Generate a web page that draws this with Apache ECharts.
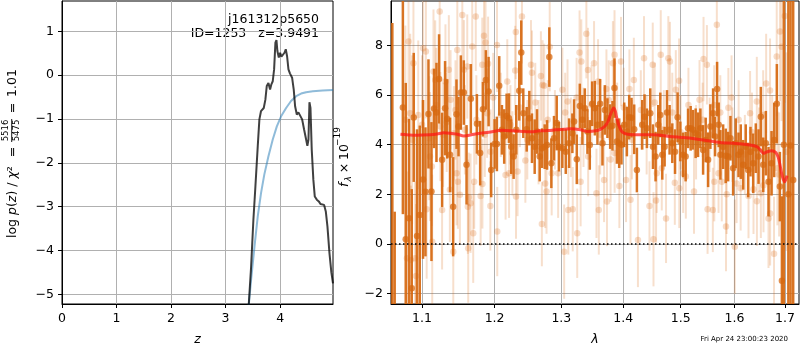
<!DOCTYPE html>
<html>
<head>
<meta charset="utf-8">
<script src="https://cdn.jsdelivr.net/npm/echarts@6/dist/echarts.min.js"></script>
<style>
  html, body { margin: 0; padding: 0; background: #fff; }
  #chart { width: 800px; height: 350px; }
</style>
</head>
<body>
<div id="chart"></div>
<script>
// ---------- redshift probability panel ----------
const zPz = [3.40, 3.425, 3.468, 3.51, 3.547, 3.59, 3.62, 3.65, 3.70, 3.73, 3.755, 3.786, 3.816, 3.84, 3.865, 3.89,
  3.914, 3.933, 3.95, 3.976, 4.0, 4.024, 4.055, 4.08, 4.104, 4.128, 4.153, 4.18, 4.22, 4.25, 4.275, 4.306, 4.336,
  4.367, 4.404, 4.44, 4.477, 4.50, 4.52, 4.538, 4.557, 4.58, 4.61, 4.636, 4.673, 4.71, 4.74, 4.77, 4.807, 4.838,
  4.868, 4.905, 4.94, 4.97];
const logPz = [-5.6, -5.24, -4.37, -3.30, -2.54, -1.62, -1.01, -0.82, -0.75, -0.56, -0.25, -0.18, -0.33, -0.21, -0.14, 0.13,
  0.74, 0.80, 0.55, 0.40, 0.51, 0.42, 0.45, 0.51, 0.59, 0.43, 0.13, 0.04, -0.06, -0.33, -0.71, -0.90, -0.85,
  -0.88, -1.01, -1.24, -1.47, -1.61, -1.47, -0.62, -0.75, -1.70, -2.39, -2.77, -2.84, -2.88, -2.94, -2.90, -2.96, -3.11,
  -3.45, -4.06, -4.5, -4.75];
const zPrior = [3.40, 3.425, 3.468, 3.53, 3.59, 3.65, 3.71, 3.786, 3.865, 3.94, 4.018, 4.11, 4.20, 4.294, 4.385, 4.477, 4.60, 4.78, 4.97];
const logPrior = [-5.6, -5.24, -4.67, -3.91, -3.22, -2.69, -2.27, -1.85, -1.47, -1.17, -0.94, -0.75, -0.59, -0.48, -0.42, -0.39, -0.37, -0.35, -0.34];
const zTicks = [0, 1, 2, 3, 4];
const pzTicks = [-5, -4, -3, -2, -1, 0, 1];
const zRange = [0, 4.97];
const pzRange = [-5.22, 1.69];

// ---------- spectrum panel (flux in units of 1e-19) ----------
const darkWave = [1.0615, 1.0645, 1.0750, 1.0787, 1.0829, 1.0865, 1.0891, 1.0934, 1.0970, 1.1013, 1.1045, 1.1085, 1.1125,
  1.1160, 1.1192, 1.1227, 1.1268, 1.1308, 1.1336, 1.1376, 1.1418, 1.1464, 1.1492, 1.1524, 1.1565, 1.1603, 1.1663,
  1.1748, 1.1794, 1.1833, 1.1875, 1.1914, 1.1951, 1.2000, 1.2033, 1.2067, 1.2106, 1.2139, 1.2174, 1.2208, 1.2242,
  1.2277, 1.2316, 1.2360, 1.2390, 1.2420, 1.2471, 1.2510, 1.2550, 1.2591, 1.2626, 1.2667, 1.2702, 1.2743, 1.2779,
  1.2814, 1.2845, 1.2886, 1.2928, 1.2964, 1.3016, 1.3069, 1.3121, 1.3173, 1.3200, 1.3243, 1.3291, 1.3332, 1.3371,
  1.3413, 1.3451, 1.3489, 1.3533, 1.3575, 1.3619, 1.3657, 1.3696, 1.3739, 1.3784, 1.3822, 1.3855, 1.3895, 1.3934,
  1.3972, 1.4018, 1.4063, 1.4102, 1.4141, 1.4187, 1.4233, 1.4324, 1.4364, 1.4405, 1.4463, 1.4510, 1.4555, 1.4602,
  1.4638, 1.4673, 1.4714, 1.4756, 1.4802, 1.4850, 1.4899, 1.4945, 1.4994, 1.5043, 1.5090, 1.5133, 1.5181, 1.5224,
  1.5272, 1.5316, 1.5359, 1.5409, 1.5457, 1.5502, 1.5544, 1.5595, 1.5632, 1.5670, 1.5700, 1.5732, 1.5784, 1.5833,
  1.5879, 1.5923, 1.5974, 1.6024, 1.6077, 1.6121, 1.6168, 1.6218, 1.6265, 1.6310, 1.6363, 1.6414, 1.6468, 1.6513,
  1.6561, 1.6613, 1.6667, 1.6727, 1.6781, 1.6834, 1.6895, 1.6936, 1.6975, 1.7068, 1.7113, 1.7167];
const darkFlux = [-4.0, -3.0, 5.5, 0.19, 1.04, -1.79, 5.1, 0.32, 1.17, 2.6, 2.1, 5.24, 2.11,
  5.46, 5.3, 6.65, 3.39, 5.47, 5.04, 3.59, 1.5, 5.23, 4.73, 6.1, 6.1, 3.19, 5.85,
  4.84, 3.66, 5.43, 6.61, 6.14, 2.98, 4.03, 4.03, 6.37, 4.6, 4.33, 5.16, 5.07, 3.92,
  3.52, 4.6, 6.17, 7.71, 5.27, 4.62, 5.07, 4.26, 3.92, 4.53, 3.52, 3.86, 3.92, 3.99,
  7.53, 3.25, 4.26, 4.87, 3.92, 3.86, 3.72, 4.06, 4.46, 4.93, 3.41, 5.56, 5.0, 5.47,
  4.53, 3.99, 5.65, 5.47, 4.8, 5.65, 4.06, 5.4, 5.07, 4.73, 4.76, 6.28, 4.13, 4.06,
  4.0, 4.8, 4.53, 5.11, 5.09, 4.62, 2.98, 4.8, 5.13, 4.66, 5.27, 3.92, 3.52, 4.8,
  5.2, 3.59, 3.92, 5.3, 4.6, 4.06, 3.72, 5.11, 4.13, 3.59, 3.52, 4.66, 4.66, 4.6,
  4.46, 4.4, 4.66, 3.79, 4.19, 3.39, 4.73, 5.27, 4.33, 6.24, 4.8, 3.59, 3.92, 3.55,
  3.52, 4.26, 3.05, 4.06, 3.59, 3.72, 3.19, 3.92, 2.98, 3.72, 3.25, 3.86, 3.52, 5.13,
  3.19, 4.06, 2.51, 3.25, 4.19, 5.65, 2.31, -1.48, 4.0, 2.0, 3.97, 2.58];
const darkErr = [12.9, 4.3, 4.3, 6.3, 4.0, 4.0, 2.6, 4.3, 3.6, 3.2, 2.6, 2.2, 2.8,
  1.6, 2.0, 1.8, 1.9, 1.9, 1.6, 1.5, 2.0, 1.4, 1.2, 1.5, 1.3, 1.6, 1.4,
  1.2, 1.3, 1.1, 1.2, 1.4, 1.1, 1.0, 1.1, 1.2, 1.0, 1.1, 0.9, 1.0, 1.1,
  0.9, 1.0, 1.2, 1.3, 1.0, 0.9, 1.1, 1.0, 1.1, 0.9, 1.0, 0.8, 0.9, 1.0,
  1.2, 1.0, 0.9, 1.1, 1.0, 0.8, 0.9, 1.0, 0.8, 0.9, 1.0, 0.9, 1.0, 0.8,
  0.9, 1.0, 0.9, 1.1, 0.8, 1.0, 0.9, 1.0, 0.8, 0.9, 1.0, 1.2, 0.9, 1.0,
  0.8, 0.9, 1.0, 0.9, 0.8, 1.0, 0.9, 1.0, 0.9, 0.8, 1.0, 0.9, 1.0, 0.8,
  0.9, 1.0, 0.8, 0.9, 1.0, 0.8, 0.9, 1.0, 0.8, 0.9, 1.0, 0.8, 0.9, 0.8,
  1.0, 0.9, 0.8, 1.0, 0.9, 1.1, 0.9, 1.0, 0.8, 1.1, 0.9, 1.0, 0.9, 1.1,
  1.0, 0.9, 1.1, 1.0, 0.9, 1.1, 1.0, 0.9, 1.1, 1.0, 1.2, 1.0, 1.1, 1.2,
  1.1, 1.3, 1.4, 1.3, 1.5, 1.6, 1.4, 3.4, 20, 20, 20, 20];

const lightWave = [1.0782, 1.0803, 1.0823, 1.0845, 1.0854, 1.0870, 1.0887, 1.0908, 1.0921, 1.0950, 1.1000, 1.1014,
  1.1051, 1.1061, 1.1097, 1.1106, 1.1130, 1.1135, 1.1152, 1.1175, 1.1190, 1.1235, 1.1244, 1.1268, 1.1282, 1.1313,
  1.1330, 1.1359, 1.1373, 1.1383, 1.1420, 1.1428, 1.1450, 1.1465, 1.1475, 1.1483, 1.1511, 1.1544, 1.1566, 1.1580,
  1.1613, 1.1621, 1.1626, 1.1635, 1.1659, 1.1682, 1.1696, 1.1710, 1.1732, 1.1740, 1.1801, 1.1824, 1.1826, 1.1848,
  1.1860, 1.1870, 1.1893, 1.1907, 1.1939, 1.1942, 1.1980, 1.2035, 1.2038, 1.2090, 1.2159, 1.2184, 1.2210, 1.2230,
  1.2259, 1.2300, 1.2309, 1.2312, 1.2335, 1.2370, 1.2400, 1.2451, 1.2480, 1.2535, 1.2550, 1.2600, 1.2650, 1.2685,
  1.2700, 1.2711, 1.2736, 1.2751, 1.2771, 1.2790, 1.2820, 1.2850, 1.2900, 1.2950, 1.3016, 1.3044, 1.3060, 1.3097,
  1.3109, 1.3150, 1.3179, 1.3240, 1.3250, 1.3287, 1.3304, 1.3315, 1.3350, 1.3396, 1.3422, 1.3425, 1.3480, 1.3520,
  1.3559, 1.3585, 1.3597, 1.3620, 1.3683, 1.3722, 1.3731, 1.3760, 1.3791, 1.3829, 1.3856, 1.3858, 1.3900, 1.3937,
  1.3964, 1.4010, 1.4049, 1.4106, 1.4124, 1.4150, 1.4181, 1.4251, 1.4300, 1.4355, 1.4400, 1.4449, 1.4506, 1.4519,
  1.4540, 1.4564, 1.4576, 1.4646, 1.4664, 1.4700, 1.4739, 1.4780, 1.4808, 1.4850, 1.4895, 1.4913, 1.4972, 1.4975,
  1.5000, 1.5045, 1.5093, 1.5140, 1.5242, 1.5280, 1.5343, 1.5400, 1.5417, 1.5479, 1.5492, 1.5530, 1.5590, 1.5615,
  1.5617, 1.5665, 1.5697, 1.5730, 1.5758, 1.5838, 1.5851, 1.5883, 1.5944, 1.5960, 1.6006, 1.6040, 1.6080, 1.6119,
  1.6200, 1.6271, 1.6302, 1.6340, 1.6369, 1.6434, 1.6436, 1.6480, 1.6514, 1.6560, 1.6567, 1.6619, 1.6666, 1.6697,
  1.6699, 1.6740, 1.6777, 1.6831, 1.6845, 1.6880, 1.6896, 1.6930, 1.6995, 1.7028];
const lightFlux = [5.0, -0.58, 8.16, 5.27, -0.65, 4.2, 7.28, -0.58, -1.29, 5.2, 4.8, 7.89,
  7.76, 1.4, 4.26, 3.52, 3.12, 0.09, 6.95, 6.61, 5.6, 9.37, 4.73, 1.37, 4.4, 6.55,
  4.9, 7.02, 2.18, 5.81, -0.31, 4.46, 5.4, 2.85, 7.82, 2.51, 1.98, 9.23, 7.02, 4.6,
  7.15, 1.5, -0.17, 1.88, 1.64, 7.96, 0.43, 2.51, 9.17, 5.0, 1.93, 7.22, 2.42, 8.39,
  4.4, 8.12, 5.27, 7.26, 1.53, 3.72, 5.9, 8.02, 0.5, 5.2, 2.78, 6.55, 2.85, 4.8,
  3.65, 6.99, 8.54, 1.91, 2.92, 5.5, 9.17, 3.36, 4.2, 7.22, 6.9, 5.7, 4.1, 6.77,
  0.8, 6.41, 6.37, 2.44, 2.11, 5.0, 7.95, 2.85, 4.6, 2.85, 6.21, -0.31, 5.3, 5.74,
  1.37, 4.3, 1.40, 5.9, 0.43, 7.71, 2.51, 7.35, 4.7, 8.47, 7.01, 3.52, 5.6, 7.28,
  2.04, 6.55, 1.37, 4.4, 2.58, 6.24, 1.71, 5.8, 3.4, 7.28, 7.62, 3.66, 4.9, 2.34,
  7.35, 5.5, 2.58, 6.24, 1.78, 4.2, 6.61, 0.16, 5.4, 7.48, 4.4, 1.53, 7.22, 0.19,
  5.7, 1.75, 2.85, 7.62, 3.05, 4.6, 1.03, 7.48, 7.35, 5.3, 2.47, 6.21, 6.58, 2.24,
  4.5, 2.85, 2.72, 5.6, 2.11, 4.1, 5.81, 5.0, 7.45, 7.22, 1.4, 4.4, 1.37, 5.6,
  2.51, 8.83, 2.85, 5.3, 2.51, 0.7, 2.0, 5.49, 5.9, 4.0, -0.11, 2.44, 5.0, 2.24,
  3.6, 1.93, 5.27, 4.5, 2.2, 5.74, 1.72, 3.8, 2.04, 5.2, 2.37, 6.47, 1.03, 6.18,
  1.23, 4.0, -0.4, 7.55, 3.05, 2.8, 8.56, 7.95, 9.19, 3.72];
const lightErr = [3.8, 3.5, 3.6, 3.2, 3.0, 3.4, 3.3, 3.1, 2.9, 3.0, 2.8, 2.9,
  2.7, 2.8, 2.5, 2.6, 2.4, 2.7, 2.5, 2.4, 2.3, 2.6, 2.2, 2.4, 2.1, 2.3,
  2.0, 2.2, 2.1, 2.0, 2.3, 1.9, 2.0, 2.1, 2.2, 1.9, 2.0, 2.3, 2.0, 1.8,
  2.1, 1.9, 2.2, 1.8, 2.0, 2.1, 2.0, 1.9, 2.2, 1.8, 2.0, 1.9, 1.8, 2.0,
  1.7, 1.9, 1.8, 1.9, 1.8, 1.7, 1.8, 1.9, 1.8, 1.7, 1.8, 1.7, 1.8, 1.6,
  1.7, 1.8, 1.9, 1.7, 1.8, 1.6, 1.9, 1.7, 1.6, 1.8, 1.7, 1.6, 1.7, 1.8,
  1.7, 1.8, 1.7, 1.8, 1.7, 1.6, 1.8, 1.7, 1.6, 1.8, 1.7, 1.9, 1.6, 1.7,
  1.8, 1.6, 1.7, 1.6, 1.8, 1.7, 1.8, 1.7, 1.6, 1.8, 1.7, 1.6, 1.6, 1.7,
  1.8, 1.7, 1.8, 1.6, 1.7, 1.6, 1.8, 1.6, 1.7, 1.7, 1.8, 1.6, 1.6, 1.7,
  1.8, 1.6, 1.7, 1.6, 1.8, 1.6, 1.7, 1.9, 1.6, 1.7, 1.6, 1.8, 1.7, 1.9,
  1.6, 1.7, 1.6, 1.8, 1.7, 1.6, 1.8, 1.7, 1.6, 1.6, 1.7, 1.6, 1.7, 1.6,
  1.5, 1.6, 1.7, 1.5, 1.7, 1.5, 1.6, 1.5, 1.7, 1.6, 1.8, 1.5, 1.7, 1.6,
  1.6, 1.8, 1.6, 1.5, 1.6, 1.8, 1.6, 1.6, 1.7, 1.5, 1.9, 1.6, 1.6, 1.7,
  1.6, 1.7, 1.7, 1.6, 1.8, 1.8, 1.8, 1.7, 1.8, 1.8, 1.9, 2.0, 2.0, 2.1,
  2.1, 2.0, 2.3, 2.4, 2.3, 2.5, 2.8, 3.0, 3.5, 4.0];

const modelWave = [1.0719, 1.0800, 1.0930, 1.1106, 1.1200, 1.1290, 1.1400, 1.1475, 1.1566, 1.1705, 1.1800, 1.1917,
  1.2111, 1.2250, 1.2411, 1.2550, 1.2662, 1.2800, 1.2910, 1.3050, 1.3153, 1.3300, 1.3420, 1.3550, 1.3623, 1.3700,
  1.3750, 1.3797, 1.3842, 1.3870, 1.3886, 1.3925, 1.3960, 1.3990, 1.4077, 1.4251, 1.4519, 1.4808, 1.5099, 1.5417,
  1.5726, 1.6040, 1.6300, 1.6435, 1.6500, 1.6567, 1.6620, 1.6730, 1.6815, 1.6860, 1.6896, 1.6930, 1.6960, 1.6995, 1.7040];
const modelFlux = [4.42, 4.40, 4.38, 4.40, 4.43, 4.48, 4.45, 4.42, 4.35, 4.42, 4.46, 4.50,
  4.58, 4.56, 4.53, 4.52, 4.56, 4.57, 4.60, 4.62, 4.64, 4.60, 4.53, 4.56, 4.62, 4.75,
  4.95, 5.26, 5.48, 5.35, 5.15, 4.80, 4.60, 4.50, 4.42, 4.40, 4.40, 4.33, 4.28, 4.19,
  4.09, 4.05, 3.99, 3.92, 3.80, 3.65, 3.70, 3.76, 3.68, 3.50, 3.20, 2.85, 2.62, 2.51, 2.75];
const waveTicks = [1.1, 1.2, 1.3, 1.4, 1.5, 1.6, 1.7];
const fluxTicks = [-2, 0, 2, 4, 6, 8];
const waveRange = [1.0598, 1.7287];
const fluxRange = [-2.42, 9.79];

// ---------- styling ----------
const FONT = 'DejaVu Sans';
const TICK_FS = 12.5;
const GRID_COLOR = '#b0b0b0';
const DARK = 'rgba(214,104,16,0.92)';
const LIGHT_BAR = 'rgba(217,95,2,0.2)';
const LIGHT_DOT = 'rgba(217,95,2,0.27)';

const minus = v => (v < 0 ? '\u2212' : '') + Math.abs(v);

function valueAxis(gridIndex, range, ticks, formatter, extra) {
  return Object.assign({
    type: 'value', gridIndex, min: range[0], max: range[1],
    axisLine: { show: true, onZero: false, lineStyle: { color: '#000', width: 1 } },
    axisTick: { show: true, length: 4, customValues: ticks, lineStyle: { color: '#000', width: 1 } },
    axisLabel: { customValues: ticks, formatter, color: '#000', fontSize: TICK_FS, fontFamily: FONT, margin: 8 },
    splitLine: { show: true, lineStyle: { color: GRID_COLOR, width: 1 } }
  }, extra || {});
}

// vertical error bars drawn through the axis scales
function errorBars(wave, flux, err, color, width, z) {
  return {
    type: 'custom', xAxisIndex: 1, yAxisIndex: 1, z, silent: true, clip: true,
    encode: { x: 0, y: [1, 2] },
    data: wave.map((w, i) => [Math.log(w), flux[i] - err[i], flux[i] + err[i]]),
    renderItem(params, api) {
      const a = api.coord([api.value(0), api.value(1)]);
      const b = api.coord([api.value(0), api.value(2)]);
      const cs = params.coordSys;
      const top = Math.max(Math.min(a[1], b[1]), cs.y);
      const bot = Math.min(Math.max(a[1], b[1]), cs.y + cs.height);
      if (bot <= top) return { type: 'group', children: [] };
      return {
        type: 'line',
        shape: { x1: a[0], y1: top, x2: a[0], y2: bot },
        style: { stroke: color, lineWidth: width }
      };
    }
  };
}

function points(wave, flux, color, size, z) {
  return {
    type: 'scatter', xAxisIndex: 1, yAxisIndex: 1, z, silent: true,
    symbol: 'circle', symbolSize: size,
    itemStyle: { color },
    data: wave.map((w, i) => [Math.log(w), flux[i]])
  };
}

const txt = (text, x, y, opts) => ({
  type: 'text', x, y, silent: true,
  style: Object.assign({ text, fill: '#000', fontSize: TICK_FS, fontFamily: FONT, align: 'left', verticalAlign: 'middle' }, opts || {})
});

const option = {
  animation: false,
  backgroundColor: '#fff',
  textStyle: { fontFamily: FONT },
  grid: [
    { left: 62, top: 1, width: 271, height: 303, show: true, borderColor: '#000', borderWidth: 1, backgroundColor: 'transparent' },
    { left: 391, top: 1, width: 408, height: 303, show: true, borderColor: '#000', borderWidth: 1, backgroundColor: 'transparent' }
  ],
  xAxis: [
    valueAxis(0, zRange, zTicks, v => minus(v)),
    valueAxis(1, waveRange.map(Math.log), waveTicks.map(Math.log), v => Math.exp(v).toFixed(1))
  ],
  yAxis: [
    valueAxis(0, pzRange, pzTicks, v => minus(v)),
    valueAxis(1, fluxRange, fluxTicks, v => minus(v))
  ],
  series: [
    {
      type: 'line', xAxisIndex: 0, yAxisIndex: 0, z: 3, silent: true, showSymbol: false, clip: true,
      lineStyle: { color: 'rgba(31,119,180,0.5)', width: 2 },
      data: zPrior.map((z, i) => [z, logPrior[i]])
    },
    {
      type: 'line', xAxisIndex: 0, yAxisIndex: 0, z: 4, silent: true, showSymbol: false, clip: true,
      lineStyle: { color: 'rgba(0,0,0,0.75)', width: 2 },
      data: zPz.map((z, i) => [z, logPz[i]])
    },
    errorBars(lightWave, lightFlux, lightErr, LIGHT_BAR, 2, 2),
    points(lightWave, lightFlux, LIGHT_DOT, 6.5, 3),
    errorBars(darkWave, darkFlux, darkErr, DARK, 2.5, 4),
    points(darkWave, darkFlux, DARK, 6.5, 5),
    {
      type: 'line', xAxisIndex: 1, yAxisIndex: 1, z: 6, silent: true, showSymbol: false, smooth: 0.3, clip: true,
      lineStyle: { color: 'rgba(255,20,20,0.72)', width: 3 },
      data: modelWave.map((w, i) => [Math.log(w), modelFlux[i]])
    },
    {
      type: 'line', xAxisIndex: 1, yAxisIndex: 1, z: 7, silent: true, showSymbol: false,
      lineStyle: { color: '#000', width: 1.5, type: [1.5, 2.5] },
      data: [[Math.log(waveRange[0]), 0], [Math.log(waveRange[1]), 0]]
    }
  ],
  graphic: [
    txt('j161312p5650', 319, 20, { align: 'right' }),
    txt('ID=1253   z=3.9491', 319, 34, { align: 'right' }),
    txt('z', 197.5, 340, { align: 'center', fontStyle: 'italic' }),
    txt('\u03bb', 595, 340, { align: 'center', fontStyle: 'italic' }),
    txt('Fri Apr 24 23:00:23 2020', 788, 339, { align: 'right', fontSize: 7 }),
    {
      type: 'group', x: 12.5, y: 238, rotation: Math.PI / 2, silent: true,
      children: [
        {
          type: 'text', x: 0, y: 0,
          style: {
            text: '{n|log }{i|p}{n|(}{i|z}{n|) / }{i|\u03c7}{n|\u00b2}',
            align: 'left', verticalAlign: 'middle', fill: '#000',
            rich: {
              n: { fontSize: TICK_FS, fontFamily: FONT, fill: '#000' },
              i: { fontSize: TICK_FS, fontFamily: FONT, fontStyle: 'italic', fill: '#000' }
            }
          }
        },
        txt('=', 86, 0, { align: 'center' }),
        txt('5516', 107.5, -6.7, { align: 'center', fontSize: 8.5 }),
        { type: 'line', shape: { x1: 96, y1: -0.8, x2: 119, y2: -0.8 }, style: { stroke: '#000', lineWidth: 0.9 } },
        txt('5475', 107.5, 4, { align: 'center', fontSize: 8.5 }),
        txt('=', 130, 0, { align: 'center' }),
        txt('1.01', 141, 0)
      ]
    },
    {
      type: 'group', x: 344.5, y: 187, rotation: Math.PI / 2, silent: true,
      children: [
        txt('f', 0, 0, { fontStyle: 'italic' }),
        txt('\u03bb', 5.5, 4, { fontSize: 9, fontStyle: 'italic' }),
        txt('\u00d7', 19, 0, { align: 'center' }),
        txt('10', 27, 0),
        txt('\u221219', 41, -7, { fontSize: 9 })
      ]
    }
  ]
};

const chart = echarts.init(document.getElementById('chart'), null, { renderer: 'canvas' });
chart.setOption(option);
</script>
</body>
</html>
